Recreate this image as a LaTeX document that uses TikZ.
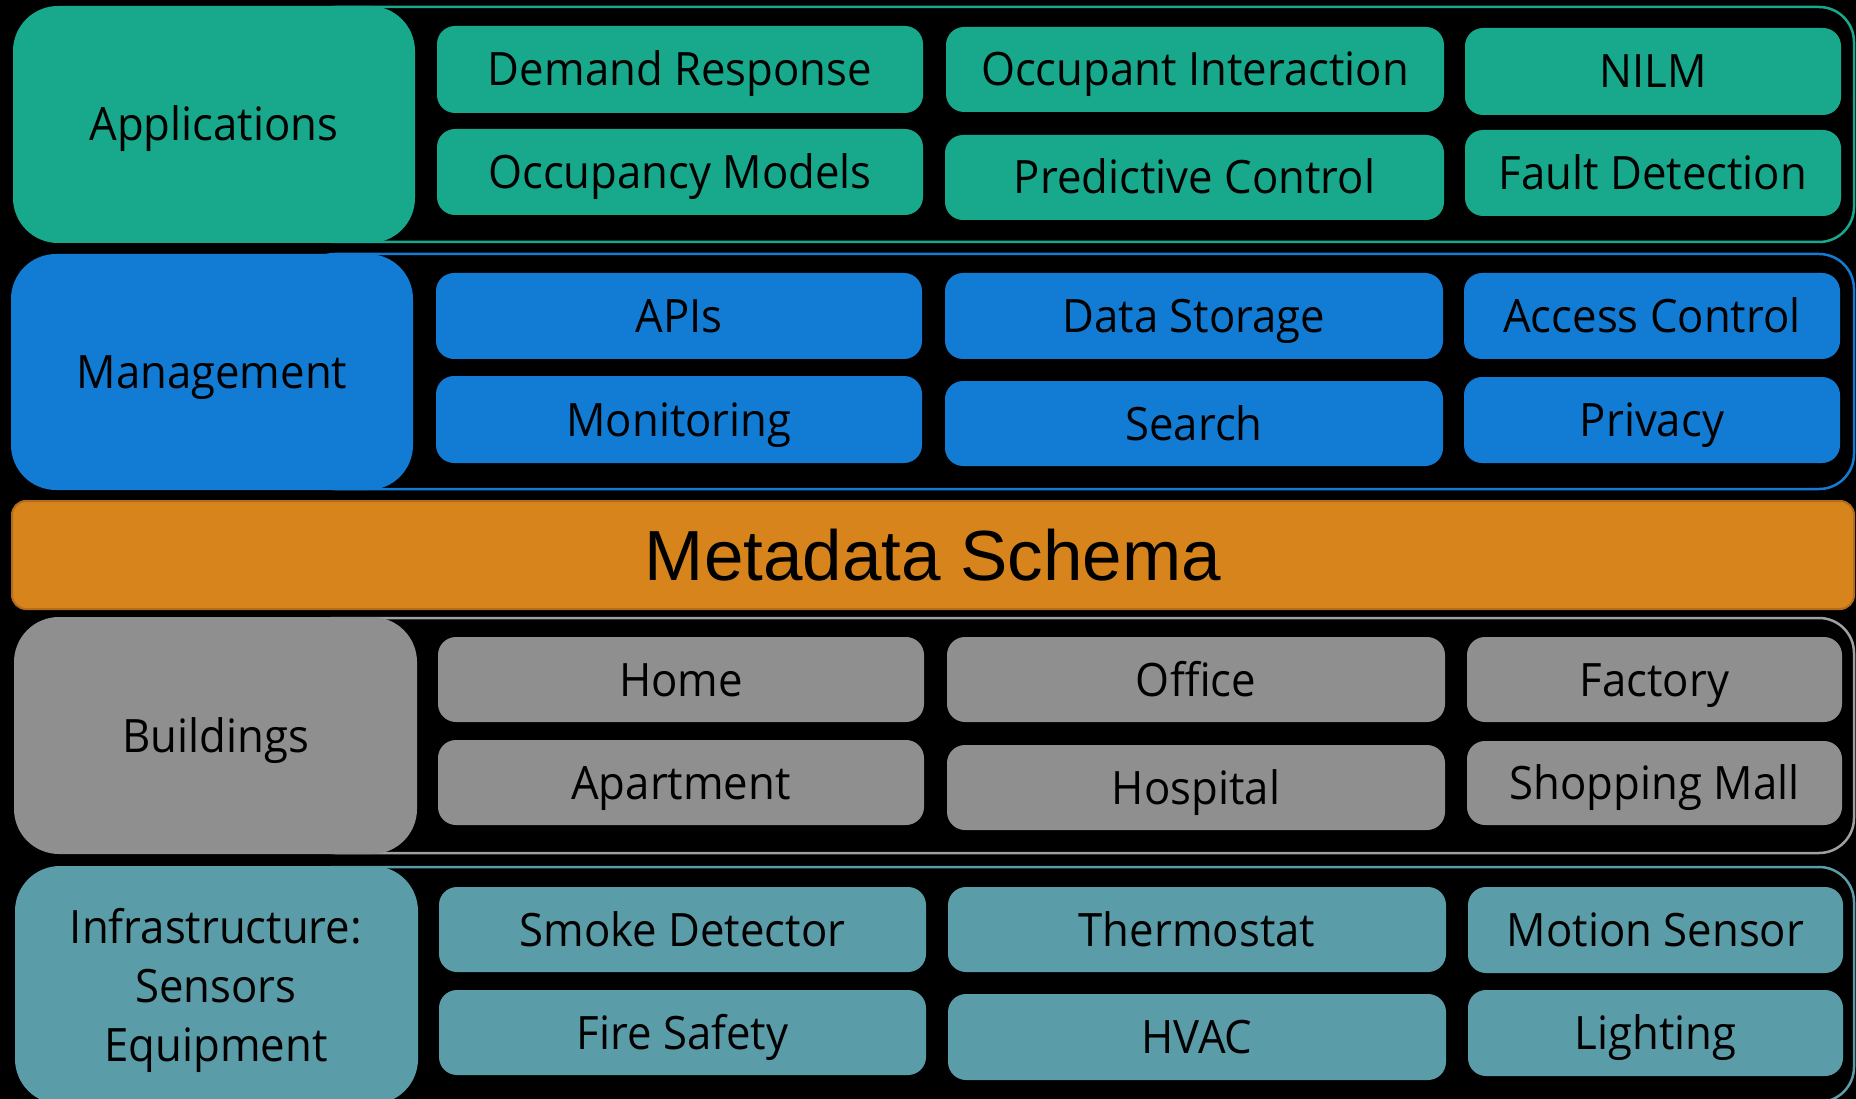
\documentclass[tikz,border=0pt]{standalone}
\usepackage{fontspec}
\setmainfont[FakeStretch=0.95]{Open Sans}
\newfontfamily\metafont{Liberation Sans}
\definecolor{appc}{RGB}{24,168,139}
\definecolor{mgmc}{RGB}{18,124,212}
\definecolor{metc}{RGB}{214,132,27}
\definecolor{metb}{RGB}{178,108,28}
\definecolor{bldc}{RGB}{143,143,143}
\definecolor{bldl}{RGB}{160,160,160}
\definecolor{infc}{RGB}{90,156,168}
\tikzset{
  layerbox/.style={rounded corners=45pt, inner sep=0pt, font=\fontsize{46}{60}\selectfont, align=center},
  single/.style={text height=33pt, text depth=0pt},
  subbox/.style={rounded corners=18pt, inner sep=0pt, font=\fontsize{46}{55}\selectfont, text height=33pt, text depth=0pt},
  frame/.style={rounded corners=35pt, line width=2.5pt, inner sep=0pt},
}
% \mybox{style}{name}{x1}{y1}{x2}{y2}{text}
\newcommand\mybox[7]{\node[#1, minimum width={(#5-#3)*1pt}, minimum height={(#6-#4)*1pt}] (#2) at ({(#3+#5)/2},{(#4+#6)/2}) {#7};}
\begin{document}
\begin{tikzpicture}[x=1pt,y=-1pt]
\useasboundingbox (0,0) rectangle (1856,1099);
\clip (0,0) rectangle (1856,1099);
\fill[black] (0,0) rectangle (1856,1099);

% ---------- Applications ----------
\mybox{frame, draw=appc}{appframe}{300}{7}{1854}{242}{}
\mybox{layerbox, single, fill=appc}{apps}{13}{6}{415}{243}{Applications}
\mybox{subbox, fill=appc}{dr}{437}{26}{923}{113}{Demand Response}
\mybox{subbox, fill=appc}{oi}{946}{27}{1444}{112}{Occupant Interaction}
\mybox{subbox, fill=appc}{nilm}{1465}{28}{1841}{115}{NILM}
\mybox{subbox, fill=appc}{om}{437}{129}{923}{215}{Occupancy Models}
\mybox{subbox, fill=appc}{pc}{945}{135}{1444}{220}{Predictive Control}
\mybox{subbox, fill=appc}{fd}{1465}{130}{1841}{216}{Fault Detection}

% ---------- Management ----------
\mybox{frame, draw=mgmc}{mgmframe}{300}{254}{1854}{489}{}
\mybox{layerbox, single, fill=mgmc}{mgm}{11}{254}{413}{490}{Management}
\mybox{subbox, fill=mgmc}{apis}{436}{273}{922}{359}{APIs}
\mybox{subbox, fill=mgmc}{ds}{945}{273}{1443}{359}{Data Storage}
\mybox{subbox, fill=mgmc}{ac}{1464}{273}{1840}{359}{Access Control}
\mybox{subbox, fill=mgmc}{mon}{436}{376}{922}{463}{Monitoring}
\mybox{subbox, fill=mgmc}{search}{945}{381}{1443}{466}{Search}
\mybox{subbox, fill=mgmc}{priv}{1464}{377}{1840}{463}{Privacy}

% ---------- Metadata Schema ----------
\mybox{rounded corners=14pt, inner sep=0pt, fill=metc, draw=metb, line width=2pt,
      font=\metafont\fontsize{71}{80}\selectfont, text height=51pt, text depth=0pt}{meta}{12}{501}{1854}{609}{Metadata Schema}

% ---------- Buildings ----------
\mybox{frame, draw=bldl}{bldframe}{300}{618}{1854}{853}{}
\mybox{layerbox, single, fill=bldc}{bld}{14}{617}{417}{854}{Buildings}
\mybox{subbox, fill=bldc}{home}{438}{637}{924}{722}{Home}
\mybox{subbox, fill=bldc}{office}{947}{637}{1445}{722}{Office}
\mybox{subbox, fill=bldc}{factory}{1467}{637}{1842}{722}{Factory}
\mybox{subbox, fill=bldc}{apt}{438}{740}{924}{825}{Apartment}
\mybox{subbox, fill=bldc}{hosp}{947}{745}{1445}{830}{Hospital}
\mybox{subbox, fill=bldc}{mall}{1467}{741}{1842}{825}{Shopping Mall}

% ---------- Infrastructure ----------
\mybox{frame, draw=infc}{infframe}{300}{867}{1854}{1102}{}
\mybox{layerbox, fill=infc}{infbox}{15}{866}{418}{1104}{}
\node[font=\fontsize{46}{59}\selectfont, align=center, inner sep=0pt] (inflabel) at (216,990) {Infrastructure:\\Sensors\\Equipment};
\mybox{subbox, fill=infc}{smoke}{439}{887}{926}{972}{Smoke Detector}
\mybox{subbox, fill=infc}{thermo}{948}{887}{1446}{972}{Thermostat}
\mybox{subbox, fill=infc}{motion}{1468}{887}{1843}{973}{Motion Sensor}
\mybox{subbox, fill=infc}{fire}{439}{990}{926}{1075}{Fire Safety}
\mybox{subbox, fill=infc}{hvac}{948}{994}{1446}{1080}{HVAC}
\mybox{subbox, fill=infc}{light}{1468}{990}{1843}{1076}{Lighting}
\end{tikzpicture}
\end{document}
